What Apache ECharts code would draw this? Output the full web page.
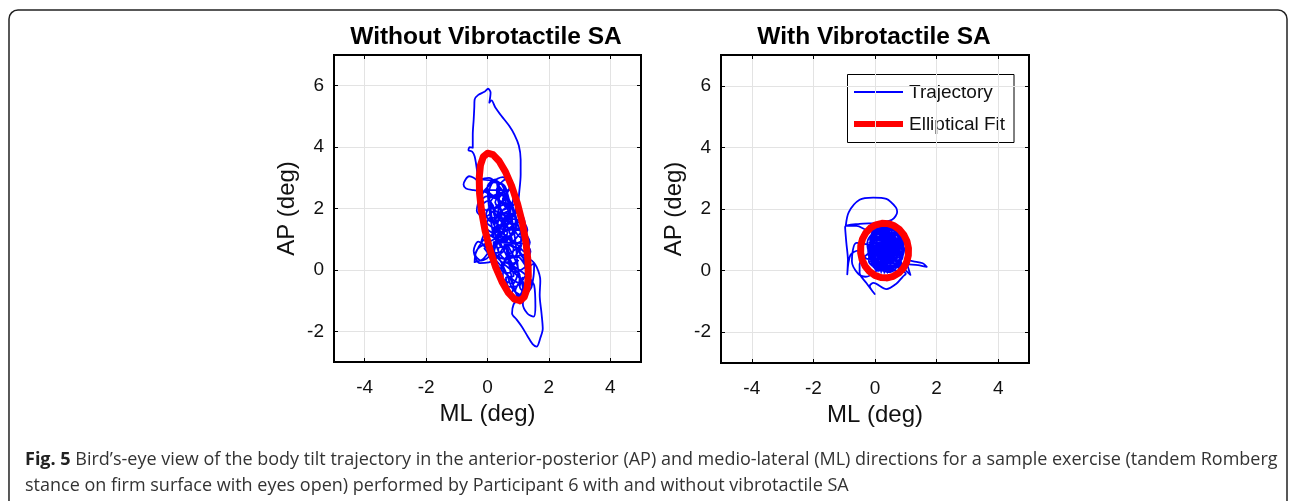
<!DOCTYPE html>
<html>
<head>
<meta charset="utf-8">
<script src="https://cdn.jsdelivr.net/npm/echarts@6/dist/echarts.min.js"></script>
<style>
html,body{margin:0;padding:0;background:#fff;}
#chart{width:1295px;height:501px;}
</style>
</head>
<body>
<div id="chart"></div>
<script>
// ---- data ----
const titles = ['Without Vibrotactile SA', 'With Vibrotactile SA'];
const xTickValues = [-4, -2, 0, 2, 4];
const yTickValues = [-2, 0, 2, 4, 6];
const xRange = [-5, 5];
const yRange = [-3, 7];
const seriesNames = ['Trajectory', 'Elliptical Fit'];
const xName = 'ML (deg)';
const yName = 'AP (deg)';

// Trajectory without vibrotactile SA [ML, AP]
const trajectoryWithout = [
[0.55,1.3],[0.75,1.9],[0.45,2.5],[0.1,2.2],[0.2,1.5],[0.6,1.0],[0.95,1.4],[0.8,2.1],[0.4,2.7],[0.05,3.0],[-0.2,2.95],[0.2,2.9],[0.55,2.75],[0.7,2.3],[0.9,1.7],[1.1,1.1],[0.95,0.5],[0.6,0.35],[0.3,0.8],[0.45,1.5],[0.75,1.75],[0.35,2.3],[-0.1,2.55],[-0.45,2.6],[-0.7,2.65],[-0.78,2.78],[-0.6,3.05],[-0.45,3.0],[-0.3,2.88],[-0.35,3.3],[-0.42,3.7],[-0.5,3.85],[-0.62,3.9],[-0.58,4.0],[-0.48,3.98],[-0.48,4.4],[-0.45,4.9],[-0.43,5.3],[-0.42,5.55],[-0.3,5.7],[-0.1,5.8],[0.02,5.9],[0.1,5.78],[0.06,5.45],[0.13,5.52],[0.25,5.3],[0.45,5.02],[0.7,4.7],[0.88,4.4],[1.02,4.05],[1.08,3.6],[1.08,3.1],[1.04,2.6],[0.98,2.15],[0.75,1.65],[0.45,1.95],[0.3,2.6],[0.6,2.95],[0.85,2.45],[0.55,1.55],[0.15,1.15],[-0.15,0.95],[-0.38,0.55],[-0.42,0.25],[-0.15,0.35],[0.2,0.8],[0.55,1.05],[0.9,0.9],[1.2,0.6],[1.38,0.9],[1.15,1.25],[0.72,1.35],[0.3,1.75],[0.02,2.25],[-0.22,2.05],[-0.05,1.55],[0.4,1.2],[0.82,0.5],[1.0,0.0],[0.82,-0.45],[0.5,-0.25],[0.58,0.3],[1.0,0.42],[1.3,0.1],[1.52,0.22],[1.5,-0.2],[1.4,-0.62],[1.12,-0.82],[0.82,-0.62],[0.62,-0.12],[0.42,0.3],[0.22,0.62],[0.45,0.95],[0.78,0.82],[1.1,0.52],[1.25,-0.1],[1.02,-0.42],[0.7,-0.22],[0.35,0.12],[0.12,0.45],[0.32,1.05],[0.62,1.42],[1.02,1.92],[1.22,1.5],[0.92,1.02],[0.52,0.72],[0.22,1.32],[0.42,2.12],[0.72,2.72],[0.5,3.02],[0.12,2.82],[-0.2,2.42],[-0.35,1.92],[-0.1,1.72],[0.3,2.02],[0.62,2.32],[0.92,1.52],[0.62,0.92],[0.22,0.32],[-0.25,0.22],[-0.45,0.62],[-0.3,0.92],[0.1,0.62],[0.5,0.22],[0.9,-0.12],[1.2,-0.52],[1.02,-0.92],
[0.3,2.9],[0.55,2.65],[0.35,2.35],[0.05,2.55],[0.2,2.85],[0.45,2.8],
[0.6,2.45],[0.75,2.15],[0.5,1.95],[0.25,2.2],[0.45,2.45],[0.6,2.2],
[0.35,2.0],[0.4,1.7],[0.15,1.55],[-0.05,1.8],[0.1,2.05],[0.3,1.9],
[0.55,1.85],[0.9,1.8],[0.95,1.45],[0.65,1.35],[0.5,1.6],[0.7,1.75],
[0.45,1.5],[0.65,1.2],[0.4,0.95],[0.15,1.15],[0.3,1.4],[0.55,1.3],
[0.7,1.3],[1.05,1.35],[1.15,1.0],[0.85,0.85],[0.7,1.05],[0.9,1.2],
[0.55,0.9],[0.85,0.7],[0.7,0.35],[0.4,0.4],[0.35,0.7],[0.6,0.75],
[0.8,0.4],[1.15,0.5],[1.25,0.15],[0.95,-0.05],[0.8,0.15],[1.0,0.3],
[0.75,0.0],[1.05,-0.15],[1.0,-0.5],[0.7,-0.55],[0.6,-0.25],[0.85,-0.2],
[0.25,1.2],[0.3,0.9],[0.05,0.7],[-0.2,0.9],[-0.05,1.2],[0.2,1.05],
[0.0,2.7],[0.25,2.95],[0.4,2.6],[0.15,2.4],[-0.1,2.6],
[0.8,2.6],[0.95,2.3],[0.7,2.0],[0.5,2.3],[0.7,2.6],
[0.05,2.3],[0.2,2.05],[-0.05,1.95],[-0.25,2.2],[0.0,2.4],
[0.8,2.0],[1.05,1.7],[0.85,1.5],[0.6,1.7],[0.75,1.95],
[0.2,1.6],[0.45,1.4],[0.2,1.2],[-0.05,1.4],[0.1,1.7],
[1.1,1.6],[1.3,1.3],[1.1,1.05],[0.9,1.3],[1.0,1.55],
[0.35,1.0],[0.6,0.85],[0.45,0.55],[0.2,0.6],[0.2,0.9],
[1.2,0.85],[1.4,0.6],[1.25,0.35],[1.05,0.55],[1.1,0.8],
[0.55,0.3],[0.85,0.2],[0.7,-0.1],[0.45,0.0],[0.5,0.25],
[1.3,-0.2],[1.45,-0.5],[1.25,-0.75],[1.05,-0.55],[1.15,-0.25],
[0.9,-0.7],[1.1,-0.95],[0.9,-1.05],[0.75,-0.85],[0.85,-0.6],
[-0.1,0.7],[0.05,0.45],[-0.2,0.3],[-0.4,0.5],[-0.25,0.75],
[0.6,1.1],[0.8,1.0],[0.55,1.6],[0.35,1.75],[0.65,2.05],[0.9,1.0],[1.0,0.0],[1.15,-0.6],[1.0,-0.95],
[0.85,-1.12],[0.8,-1.42],[0.95,-1.62],[1.12,-1.85],[1.3,-2.15],[1.47,-2.42],[1.6,-2.5],[1.72,-2.22],[1.8,-1.92],[1.76,-1.42],[1.7,-0.82],[1.72,-0.35],[1.6,0.1],[1.42,0.32],[1.35,-0.18],[1.52,-0.5],[1.56,-1.18],[1.5,-1.52],[1.3,-1.42],[1.15,-1.1],[1.3,-0.7],[1.1,-0.3],[0.8,0.2],[0.6,0.7],[0.4,1.3],[0.2,1.9],[0.5,2.2],[0.85,2.0],[0.7,1.5],[0.5,1.8],[0.3,1.4],[0.7,1.1],[0.9,1.3],[0.6,1.6],[0.55,1.3]
];

// Elliptical fit without vibrotactile SA [ML, AP]
const ellipseWithout = [
[1.056,-1.003],[1.195,-0.887],[1.289,-0.614],[1.330,-0.205],[1.318,0.313],[1.251,0.906],[1.136,1.533],[0.979,2.150],[0.792,2.717],[0.586,3.193],[0.377,3.548],[0.179,3.755],[0.004,3.803],[-0.135,3.687],[-0.229,3.414],[-0.270,3.005],[-0.258,2.487],[-0.191,1.894],[-0.076,1.267],[0.081,0.650],[0.268,0.083],[0.474,-0.393],[0.683,-0.748],[0.881,-0.955],[1.056,-1.003]
];

// Trajectory with vibrotactile SA [ML, AP]
const trajectoryWith = [
[0.3,0.7],[0.8,1.1],[0.1,1.3],[-0.2,0.6],[0.4,0.0],[0.9,0.5],[0.5,1.4],[-0.1,1.1],[0.0,0.2],[0.7,0.1],[0.9,0.9],[0.3,1.45],[-0.25,0.9],[0.1,0.0],[0.8,0.3],[0.7,1.3],[0.0,1.35],[-0.2,0.3],[0.5,-0.05],[0.95,0.7],[0.4,1.2],[-0.1,0.8],[0.2,0.1],[0.85,0.2],[0.6,1.0],[0.05,1.0],[0.15,0.4],[0.75,0.6],[0.35,1.35],[-0.15,1.0],[-0.1,0.2],[0.6,0.15],[0.95,1.0],[0.2,1.25],[-0.2,0.5],[0.3,0.05],[0.9,0.45],[0.55,1.35],[-0.05,1.2],[0.05,0.1],[0.8,0.0],[0.8,1.2],[0.25,0.9],[0.6,0.5],[0.1,0.55],[0.45,0.3],[0.7,0.85],[0.2,0.7],[0.5,0.9],[0.35,0.4],
[0.04,0.0],[0.58,0.03],[-0.06,0.1],[0.68,0.13],[-0.13,0.2],[0.75,0.23],[-0.18,0.3],[0.8,0.33],[-0.21,0.4],[0.83,0.43],[-0.23,0.5],[0.85,0.53],[-0.24,0.6],[0.86,0.63],[-0.24,0.7],[0.86,0.73],[-0.23,0.8],[0.85,0.83],[-0.21,0.9],[0.83,0.93],[-0.18,1.0],[0.8,1.03],[-0.13,1.1],[0.75,1.13],[-0.06,1.2],[0.68,1.23],[0.04,1.3],[0.58,1.33],[0.15,1.4],[0.45,1.41],
[-0.2,1.3],[-0.6,1.45],[-0.95,1.45],[-0.85,1.9],[-0.5,2.3],[-0.06,2.37],[0.37,2.33],[0.68,2.05],[0.72,1.9],[0.55,1.65],[0.1,1.55],[-0.5,1.52],[-0.97,1.42],[-0.93,0.9],[-0.88,0.35],[-0.9,-0.12],[-0.8,0.5],[-0.55,0.65],[-0.3,0.4],
[-0.2,0.37],[-0.15,0.93],[-0.1,0.15],[-0.05,1.15],[0.0,0.03],[0.05,1.27],[0.1,-0.04],[0.15,1.34],[0.2,-0.08],[0.25,1.38],[0.3,-0.1],[0.35,1.4],[0.4,-0.09],[0.45,1.39],[0.5,-0.05],[0.55,1.35],[0.6,0.01],[0.65,1.29],[0.7,0.12],[0.75,1.18],[0.8,0.31],[0.82,0.99],
[0.2,0.95],[0.65,1.25],[0.9,0.75],[0.55,0.1],[0.0,0.45],[0.3,1.1],[0.85,0.95],[0.65,0.35],[0.1,0.25],[-0.15,0.75],[0.4,1.45],[0.9,1.15],[0.75,0.2],[0.25,0.15],[-0.05,0.6],[0.45,1.0],
[-0.5,0.2],[-0.5,-0.08],[-0.28,-0.4],[-0.01,-0.76],[-0.17,-0.5],[-0.05,-0.4],[0.37,-0.6],[0.7,-0.42],[0.9,-0.2],[1.0,-0.1],[0.8,0.05],
[0.35,0.55],[0.6,0.75],[0.15,0.85],[0.5,0.6],[0.8,0.8],[0.4,0.25],
[1.1,0.2],[1.4,0.18],[1.68,0.12],[1.55,0.24],[1.25,0.3],[1.0,0.35],[1.15,-0.14],[0.95,0.05],
[0.5,0.45],[0.1,0.75],[-0.6,0.9],[-0.75,0.3],[-0.55,-0.1],[-0.3,-0.2],[0.0,-0.05],[0.3,0.3],[0.65,0.65],[0.25,1.2],[0.75,1.0],[0.3,0.8]
];

// Elliptical fit with vibrotactile SA [ML, AP]
const ellipseWith = [
[0.395,-0.236],[0.593,-0.187],[0.772,-0.080],[0.919,0.076],[1.025,0.271],[1.082,0.492],[1.086,0.724],[1.038,0.950],[0.939,1.157],[0.799,1.328],[0.624,1.454],[0.429,1.525],[0.225,1.536],[0.027,1.487],[-0.152,1.380],[-0.299,1.224],[-0.405,1.029],[-0.462,0.808],[-0.466,0.576],[-0.418,0.350],[-0.319,0.143],[-0.179,-0.028],[-0.004,-0.154],[0.191,-0.225],[0.395,-0.236]
];

const captionLabel = 'Fig. 5';
const captionLine1 = "Bird\u2019s-eye view of the body tilt trajectory in the anterior-posterior (AP) and medio-lateral (ML) directions for a sample exercise (tandem Romberg";
const captionLine2 = "stance on firm surface with eyes open) performed by Participant 6 with and without vibrotactile SA";

// ---- chart ----
const FONT = 'Liberation Sans, Arial, sans-serif';
const CAPFONT = 'Open Sans, Noto Sans, sans-serif';
const chart = echarts.init(document.getElementById('chart'), null, {renderer: 'canvas'});

const grids = [
  {left: 334, top: 55, width: 307, height: 307},
  {left: 721, top: 55, width: 308, height: 308}
];

const xAxes = [], yAxes = [];
grids.forEach((g, i) => {
  xAxes.push({
    gridIndex: i, type: 'value', position: 'bottom', min: xRange[0], max: xRange[1],
    name: xName, nameLocation: 'middle', nameGap: 38,
    nameTextStyle: {fontFamily: FONT, fontSize: 24, color: '#111'},
    axisLine: {show: false, onZero: false},
    axisTick: {show: true, inside: true, length: 4, lineStyle: {color: '#000'}, customValues: xTickValues},
    axisLabel: {fontFamily: FONT, fontSize: 19, color: '#111', margin: 16, customValues: xTickValues},
    splitLine: {show: true, lineStyle: {color: '#e3e3e3', width: 1}}
  });
  xAxes.push({
    gridIndex: i, type: 'value', position: 'top', min: xRange[0], max: xRange[1],
    axisLine: {show: false, onZero: false},
    axisTick: {show: true, inside: true, length: 4, lineStyle: {color: '#000'}, customValues: xTickValues},
    axisLabel: {show: false},
    splitLine: {show: false}
  });
  yAxes.push({
    gridIndex: i, type: 'value', position: 'left', min: yRange[0], max: yRange[1],
    name: yName, nameLocation: 'middle', nameGap: 35, nameRotate: 90,
    nameTextStyle: {fontFamily: FONT, fontSize: 24, color: '#111'},
    axisLine: {show: false, onZero: false},
    axisTick: {show: true, inside: true, length: 4, lineStyle: {color: '#000'}, customValues: yTickValues},
    axisLabel: {fontFamily: FONT, fontSize: 19, color: '#111', margin: 10, customValues: yTickValues},
    splitLine: {show: true, lineStyle: {color: '#e3e3e3', width: 1}}
  });
  yAxes.push({
    gridIndex: i, type: 'value', position: 'right', min: yRange[0], max: yRange[1],
    axisLine: {show: false, onZero: false},
    axisTick: {show: true, inside: true, length: 4, lineStyle: {color: '#000'}, customValues: yTickValues},
    axisLabel: {show: false},
    splitLine: {show: false}
  });
});

const trajData = [trajectoryWithout, trajectoryWith];
const ellData = [ellipseWithout, ellipseWith];
const series = [];
[0, 1].forEach(i => {
  series.push({
    name: seriesNames[0], type: 'line', xAxisIndex: i * 2, yAxisIndex: i * 2,
    data: trajData[i], showSymbol: false, symbol: 'none', smooth: 0.3,
    lineStyle: {color: '#0000ff', width: 1.8, join: 'round'}, itemStyle: {color: '#0000ff'},
    z: 2, animation: false
  });
  series.push({
    name: seriesNames[1], type: 'line', xAxisIndex: i * 2, yAxisIndex: i * 2,
    data: ellData[i], showSymbol: false, symbol: 'none', smooth: false,
    lineStyle: {color: '#ff0000', width: 7, join: 'round', cap: 'round'}, itemStyle: {color: '#ff0000'},
    z: 3, animation: false
  });
});

const option = {
  animation: false,
  backgroundColor: '#fff',
  title: [
    {text: titles[0], left: 481, top: 20, textAlign: 'center',
     textStyle: {fontFamily: FONT, fontSize: 24.5, fontWeight: 'bold', color: '#000'}},
    {text: titles[1], left: 869, top: 20, textAlign: 'center',
     textStyle: {fontFamily: FONT, fontSize: 24.5, fontWeight: 'bold', color: '#000'}}
  ],
  grid: grids.map(g => Object.assign({show: true, borderColor: '#000', borderWidth: 2, backgroundColor: 'transparent'}, g)),
  xAxis: xAxes,
  yAxis: yAxes,
  graphic: [
    {type: 'rect', shape: {x: 9, y: 10, width: 1278, height: 510, r: 9},
     style: {fill: 'none', stroke: '#222', lineWidth: 1.5}, z: -1, silent: true},
    // legend (drawn in the right panel)
    {type: 'group', z: 100, silent: true, children: [
      {type: 'rect', shape: {x: 847.5, y: 74.5, width: 166.5, height: 68},
       style: {fill: '#fff', stroke: '#000', lineWidth: 1}},
      {type: 'line', shape: {x1: 854, y1: 92, x2: 903, y2: 92},
       style: {stroke: '#0000ff', lineWidth: 1.8}},
      {type: 'line', shape: {x1: 854, y1: 124, x2: 903, y2: 124},
       style: {stroke: '#ff0000', lineWidth: 6}},
      {type: 'text', x: 909, y: 93,
       style: {text: seriesNames[0], font: '19px ' + FONT, fill: '#111', verticalAlign: 'middle'}},
      {type: 'text', x: 909, y: 125,
       style: {text: seriesNames[1], font: '19px ' + FONT, fill: '#111', verticalAlign: 'middle'}}
    ]},
    {type: 'text', left: 25, top: 451,
     style: {text: '{b|' + captionLabel + '} ' + captionLine1, font: '18px ' + CAPFONT, fill: '#333',
       rich: {b: {fontWeight: 'bold', fontSize: 18, fontFamily: CAPFONT, fill: '#222'}}}},
    {type: 'text', left: 25, top: 477,
     style: {text: captionLine2, font: '18px ' + CAPFONT, fill: '#333'}}
  ],
  series: series
};
chart.setOption(option);
</script>
</body>
</html>
